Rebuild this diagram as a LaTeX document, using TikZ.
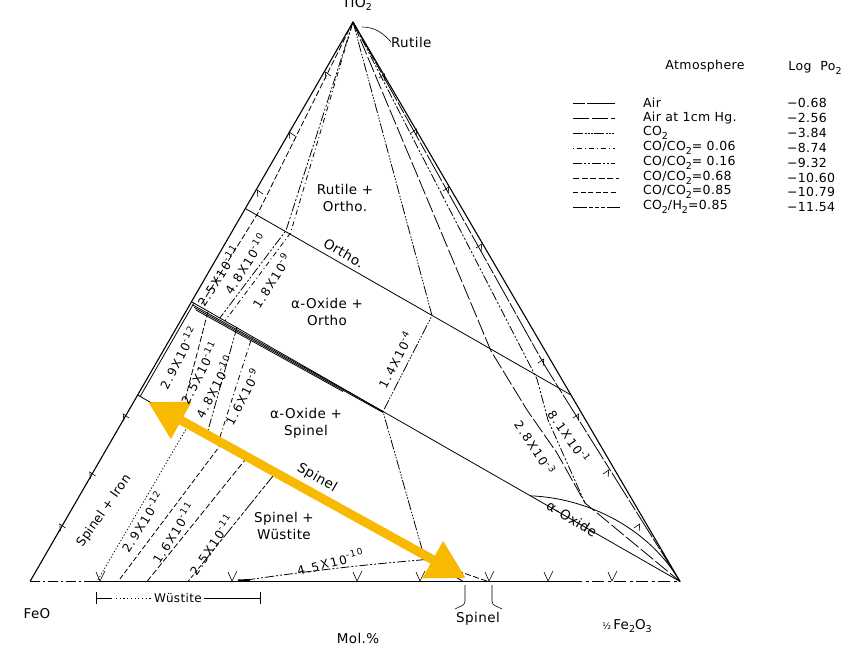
\documentclass[tikz,border=0pt]{standalone}
\usepackage{fontspec}
\setmainfont{DejaVu Sans}
\newfontfamily\labfont[LetterSpace=3]{DejaVu Sans}
\newfontfamily\isofont[LetterSpace=14]{DejaVu Sans}
\usetikzlibrary{arrows.meta,calc}
\definecolor{yel}{RGB}{248,186,0}
\newcommand\myexp[1]{\raisebox{0.75ex}{\fontsize{9}{9}\selectfont #1}}
\newcommand\mysub[1]{\raisebox{-0.5ex}{\fontsize{9.5}{9.5}\selectfont #1}}
\begin{document}
\begin{tikzpicture}[x=1pt,y=-1pt,
  every node/.style={inner sep=0pt,outer sep=0pt},
  lab/.style={font=\fontsize{13.5}{17}\selectfont\labfont,align=center},
  leg/.style={font=\fontsize{12.5}{12.5}\selectfont\labfont,anchor=west},
  iso/.style={font=\fontsize{12}{12}\selectfont\isofont},
  ln/.style={line width=0.8pt},
  edgeln/.style={line width=1.1pt},
  s1/.style={dash pattern=on 12pt off 2pt on 30pt off 2pt},
  s2/.style={dash pattern=on 16pt off 3pt},
  s3/.style={dash pattern=on 10pt off 2pt on 1.5pt off 1.5pt on 1.5pt off 1.5pt on 1.5pt off 1.5pt},
  s4/.style={dash pattern=on 1pt off 3pt on 5pt off 3pt},
  s5/.style={dash pattern=on 9pt off 2pt on 2pt off 2pt on 2pt off 2pt},
  s6/.style={dash pattern=on 6pt off 2.5pt},
  s7/.style={dash pattern=on 5pt off 2.5pt},
  s8/.style={dash pattern=on 14pt off 2pt on 4pt off 2pt on 4pt off 2pt on 4pt off 2pt},
  tk/.pic={\draw[line width=0.6pt] (-3,3)--(0,-3.5)--(3,3);}
]
\useasboundingbox (0,0) rectangle (868,649);
\fill[white] (0,0) rectangle (868,649);

% corners and joins
\coordinate (A) at (353,22);
\coordinate (F) at (30,581.5);
\coordinate (H) at (680,581.5);
\coordinate (OL) at ($(F)!2/3!(A)$);
\coordinate (OR) at ($(H)!1/3!(A)$);
\coordinate (IL) at ($(F)!1/2!(A)$);
\coordinate (SL) at ($(F)!1/3!(A)$);
\coordinate (SR) at ($(F)!2/3!(H)$);
\coordinate (X1) at (383,411.5);
\coordinate (X2) at (432,315.5);
\coordinate (X3) at (425,559.6);
\coordinate (B1) at (94,581.5);
\coordinate (B2) at (570,581.5);

% triangle
\draw[edgeln] (F) -- (A) -- (H);
\draw[edgeln] (B1) -- (B2);
\draw[edgeln,dash pattern=on 10pt off 3pt on 2pt off 3pt] (F) -- (B1);
\draw[edgeln,dash pattern=on 12pt off 4pt on 3pt off 3pt] (B2) -- (H);
\draw[ln] (194,303) -- (140.3,396.2);

% joins
\draw[ln] (OL) -- (OR);
\draw[ln] (IL) -- (H);
\draw[ln] ($(IL)+(1,3)$) -- (X1);
\draw[ln] ($(IL)+(2.5,5.5)$) -- ($(X1)+(0,1)$);
\draw[ln] ($(IL)+(4,8)$) -- ($(X1)+(-40,-20)$);
\draw[ln] (SL) -- (SR);
\draw[ln] (530,495.8) .. controls (590,498) and (650,530) .. (H);

% isobars near TiO2 apex (left)
\draw[ln,s6] (A) -- (258,213) -- (200,306.4);
\draw[ln,s5] (A) -- (286,230.5) -- (220,317.8);
\draw[ln,s4] (A) -- (290.5,233) -- (225,320.8);
% 1.4e-4
\draw[ln,s3] (A) -- (X2) -- (X1) -- (X3);
% right side
\draw[ln,s2] (A) -- (491,351) -- (527,410) -- (557,453) -- (585,503) -- (H);
\draw[ln,s5] (A) -- (537,379) -- (548,420) -- (585,503);
\draw[ln,s1] (A) -- (545,366) -- (H);

% alpha-oxide + spinel field
\draw[ln,s6] (208,311.5) -- (180,419);
\draw[ln,s5] (237,327) -- (207,434);
\draw[ln,s4] (252,337) -- (219,440);

% spinel + wustite field
\draw[ln,dash pattern=on 1.2pt off 2pt] (189,424) -- (97,581.5);
\draw[ln,s7] (222,443) -- (118,581.5);
\draw[ln,s6] (247,457.5) -- (147,581.5);
\draw[ln,s8] (275,473.5) -- (188,581.5);
\draw[ln,s5] (X3) .. controls (360,565) and (300,572) .. (240,581);
\draw[line width=2.2pt] (238,580.5) -- (250,580.2);
\draw[ln,s6] (X3) -- (488,581.5);

% tick marks
\foreach \p in {(61.5,527),(91.5,475),(125,417),(259,193),(291,135),(327,75)}
  \pic[rotate=30] at \p {tk};
\foreach \p in {(383,77),(415,132),(447,190),(480,247),(542,362),(577,417),(607,473),(638,527)}
  \pic[rotate=-30] at \p {tk};
\foreach \x in {100,232,357,420,489,548,612}
  \draw[line width=0.6pt] (\x-4,572) -- (\x,581) -- (\x+5,571);

% yellow double arrow
\coordinate (YA) at (148,402);
\coordinate (YB) at (466,578);
\draw[yel,line width=9pt,{Triangle[length=38pt,width=40pt]}-{Triangle[length=38pt,width=40pt]}] (YA) -- (YB);

% top labels
\node[anchor=base,font=\fontsize{14}{14}\selectfont\labfont] (tio) at (357,7) {TiO\mysub{2}};
\node[lab,anchor=west] (rut) at (391,42) {Rutile};
\draw[line width=0.6pt] (362,27) .. controls (375,27) and (383,33) .. (rut.west);

% region labels
\node[lab] (r1) at (345,198) {Rutile +\\Ortho.};
\node[lab,rotate=-30] (r2) at (344,253) {Ortho.};
\node[lab] (r3) at (327,312) {α-Oxide +\\Ortho};
\node[lab] (r4) at (306,423) {α-Oxide +\\Spinel};
\node[lab] (r5) at (284,526) {Spinel +\\Wüstite};
\node[lab,rotate=-30] (r6) at (317,478) {Spinel};
\node[lab,rotate=-31] (r7) at (572,519) {α-Oxide};
\node[lab,rotate=55,font=\fontsize{12.5}{12.5}\selectfont\labfont] (r8) at (104,511) {Spinel + Iron};

% isobar labels
\node[iso,rotate=58] (i1) at (218,276) {2.5X10\myexp{-11}};
\node[iso,rotate=58] (i2) at (245,264) {4.8X10\myexp{-10}};
\node[iso,rotate=58] (i3) at (271,281) {1.8X10\myexp{-9}};
\node[iso,rotate=63] (i4) at (178,358) {2.9X10\myexp{-12}};
\node[iso,rotate=63] (i5) at (199,373) {2.5X10\myexp{-11}};
\node[iso,rotate=63] (i6) at (214,387) {4.8X10\myexp{-10}};
\node[iso,rotate=63] (i7) at (242,397) {1.6X10\myexp{-9}};
\node[iso,rotate=58] (i8) at (142,522) {2.9X10\myexp{-12}};
\node[iso,rotate=58] (i9) at (173,533) {1.6X10\myexp{-11}};
\node[iso,rotate=56] (i10) at (211,545) {2.5X10\myexp{-11}};
\node[iso,rotate=14] (i11) at (330,562) {4.5X10\myexp{-10}};
\node[iso,rotate=63] (i12) at (395,360) {1.4X10\myexp{-4}};
\node[iso,rotate=-57] (i13) at (535,447) {2.8X10\myexp{-3}};
\node[iso,rotate=-55] (i14) at (569,436) {8.1X10\myexp{-1}};

% bottom labels
\node[lab] (feo) at (37,614) {FeO};
\node[lab] (mol) at (358,638) {Mol.\%};
\node[lab] (spl) at (478,619) {Spinel};
\node[lab] (fe2) at (627,626) {{\fontsize{9}{9}\selectfont ½}\,Fe\mysub{2}O\mysub{3}};
\draw[line width=0.6pt] (465,585) -- (465,601) .. controls (465,606) and (460,606) .. (455,609);
\draw[line width=0.6pt] (492,585) -- (492,601) .. controls (492,606) and (497,606) .. (502,609);
\node[font=\fontsize{12}{12}\selectfont\labfont] (wu) at (178,598) {Wüstite};
\draw[line width=0.7pt] (96,592) -- (96,604);
\draw[line width=0.7pt] (260,592) -- (260,604);
\draw[line width=0.7pt] (96,598) -- (112,598);
\draw[line width=0.7pt,dash pattern=on 1.2pt off 2.5pt] (116,598) -- ($(wu.west)+(-3,0)$);
\draw[line width=0.7pt] ($(wu.east)+(2,0)$) -- (260,598);

% legend
\node[leg,anchor=center] (lh1) at (705,66) {Atmosphere};
\node[leg,anchor=center] (lh2) at (815,68) {Log\hspace{9pt}Po\mysub{2}};
\draw[ln,s1] (573,103) -- (615,103);
\node[leg] (t1) at (643,103) {Air};
\node[leg] (v1) at (787,103) {−0.68};
\draw[ln,s2] (573,118) -- (615,118);
\node[leg] (t2) at (643,118) {Air at 1cm Hg.};
\node[leg] (v2) at (787,118) {−2.56};
\draw[ln,s3] (573,133) -- (615,133);
\node[leg] (t3) at (643,133) {CO\mysub{2}};
\node[leg] (v3) at (787,133) {−3.84};
\draw[ln,s4] (573,148) -- (615,148);
\node[leg] (t4) at (643,148) {CO/CO\mysub{2}= 0.06};
\node[leg] (v4) at (787,148) {−8.74};
\draw[ln,s5] (573,163) -- (615,163);
\node[leg] (t5) at (643,163) {CO/CO\mysub{2}= 0.16};
\node[leg] (v5) at (787,163) {−9.32};
\draw[ln,s6] (573,178) -- (619,178);
\node[leg] (t6) at (643,178) {CO/CO\mysub{2}=0.68};
\node[leg] (v6) at (787,178) {−10.60};
\draw[ln,s7] (573,192) -- (617,192);
\node[leg] (t7) at (643,192) {CO/CO\mysub{2}=0.85};
\node[leg] (v7) at (787,192) {−10.79};
\draw[ln,s8] (573,207) -- (620,207);
\node[leg] (t8) at (643,207) {CO\mysub{2}/H\mysub{2}=0.85};
\node[leg] (v8) at (787,207) {−11.54};
\end{tikzpicture}
\end{document}
